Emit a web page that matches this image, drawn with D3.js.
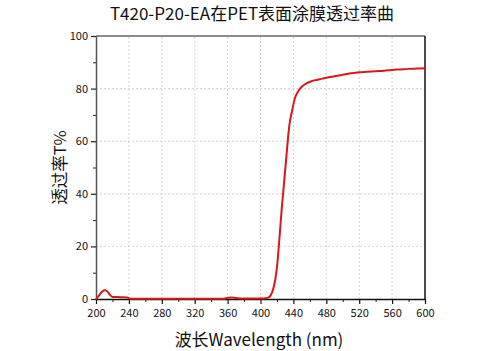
<!DOCTYPE html>
<html>
<head>
<meta charset="utf-8">
<script src="https://cdn.jsdelivr.net/npm/d3@7"></script>
<style>
  body { margin: 0; background: #fff; }
  text { font-family: "Noto Sans CJK SC", "Noto Sans", sans-serif; font-weight: 400; }
</style>
</head>
<body>
<svg id="chart"></svg>
<script>
// wavelength (nm) and transmittance (%)
const wavelength = [200, 204, 208, 211, 214, 217, 220, 230, 238, 242, 260, 300, 340, 356, 360, 365, 370, 380, 390, 400, 406, 410, 412, 414, 416, 418, 420, 422, 424, 426, 428, 430, 432, 434, 436, 438, 440, 442, 445, 448, 452, 456, 462, 468, 474, 480, 490, 500, 510, 520, 530, 540, 550, 560, 570, 580, 590, 600];
const transmittance = [0, 1.5, 3.0, 3.3, 2.8, 1.5, 0.8, 0.7, 0.6, 0.1, 0.05, 0.05, 0.05, 0.1, 0.5, 0.6, 0.4, 0.2, 0.2, 0.2, 0.3, 0.6, 1.2, 2.5, 4.5, 7.5, 12, 19, 27, 35, 42, 49, 56, 63, 68, 71, 74, 76.5, 78.5, 80, 81.2, 82, 82.8, 83.3, 83.7, 84.1, 84.7, 85.3, 85.8, 86.2, 86.4, 86.6, 86.8, 87.1, 87.3, 87.5, 87.6, 87.7];
const xTicks = [200, 240, 280, 320, 360, 400, 440, 480, 520, 560, 600];
const yTicks = [0, 20, 40, 60, 80, 100];
const titleText = "T420-P20-EA在PET表面涂膜透过率曲";
const xLabel = "波长Wavelength (nm)";
const yLabel = "透过率T%";

const width = 486, height = 351;
const marginLeft = 96, marginRight = 61, marginTop = 36, marginBottom = 52;

const svg = d3.select('#chart')
  .attr('width', width)
  .attr('height', height)
  .attr('viewBox', [0, 0, width, height]);

const x = d3.scaleLinear().domain([200, 600]).range([marginLeft, width - marginRight]);
const y = d3.scaleLinear().domain([0, 100]).range([height - marginBottom, marginTop]);

// grid
svg.append('g')
  .selectAll('line')
  .data(xTicks.slice(1, -1))
  .join('line')
  .attr('x1', (d) => x(d)).attr('x2', (d) => x(d))
  .attr('y1', y(0)).attr('y2', y(100))
  .attr('stroke', '#c8c8c8').attr('stroke-width', 0.8)
  .attr('stroke-dasharray', '2,2');
svg.append('g')
  .selectAll('line')
  .data(yTicks.slice(1, -1))
  .join('line')
  .attr('x1', x(200)).attr('x2', x(600))
  .attr('y1', (d) => y(d)).attr('y2', (d) => y(d))
  .attr('stroke', '#c8c8c8').attr('stroke-width', 0.8)
  .attr('stroke-dasharray', '2,2');

// frame top / right
svg.append('line')
  .attr('x1', x(200)).attr('x2', x(600)).attr('y1', y(100)).attr('y2', y(100))
  .attr('stroke', '#666').attr('stroke-width', 1.5);
svg.append('line')
  .attr('x1', x(600)).attr('x2', x(600)).attr('y1', y(100)).attr('y2', y(0))
  .attr('stroke', '#111').attr('stroke-width', 1.5);

// minor ticks
const xMinor = d3.range(220, 600, 40);
const yMinor = d3.range(10, 100, 20);
svg.append('g')
  .attr('transform', `translate(0,${height - marginBottom})`)
  .call(d3.axisBottom(x).tickValues(xMinor).tickSize(3).tickFormat(''))
  .call((g) => g.select('.domain').remove())
  .call((g) => g.selectAll('line').attr('stroke', '#222'));
svg.append('g')
  .attr('transform', `translate(${marginLeft},0)`)
  .call(d3.axisLeft(y).tickValues(yMinor).tickSize(3).tickFormat(''))
  .call((g) => g.select('.domain').remove())
  .call((g) => g.selectAll('line').attr('stroke', '#222'));

// axes
svg.append('g')
  .attr('transform', `translate(0,${height - marginBottom})`)
  .call(d3.axisBottom(x).tickValues(xTicks).tickSize(5).tickSizeOuter(0))
  .call((g) => g.select('.domain').attr('stroke', '#111').attr('stroke-width', 1.5))
  .call((g) => g.selectAll('line').attr('stroke', '#111').attr('stroke-width', 1.2))
  .call((g) => g.selectAll('text').attr('font-size', 11).attr('fill', '#111').attr('dy', '0.9em'));

svg.append('g')
  .attr('transform', `translate(${marginLeft},0)`)
  .call(d3.axisLeft(y).tickValues(yTicks).tickSize(5).tickSizeOuter(0))
  .call((g) => g.select('.domain').attr('stroke', '#555').attr('stroke-width', 1.5))
  .call((g) => g.selectAll('line').attr('stroke', '#222').attr('stroke-width', 1.2))
  .call((g) => g.selectAll('text').attr('font-size', 11).attr('fill', '#111'));

// curve
const line = d3.line()
  .x((d, i) => x(wavelength[i]))
  .y((d) => y(d))
  .curve(d3.curveMonotoneX);
svg.append('path')
  .datum(transmittance)
  .attr('d', line)
  .attr('fill', 'none')
  .attr('stroke', '#d7191c')
  .attr('stroke-width', 2);

// labels
svg.append('text').attr('x', 252).attr('y', 20).attr('text-anchor', 'middle')
  .attr('font-size', 17).attr('fill', '#111').text(titleText);
svg.append('text').attr('x', 259).attr('y', 346).attr('text-anchor', 'middle')
  .attr('font-size', 17).attr('fill', '#111').text(xLabel);
svg.append('text')
  .attr('transform', `translate(66,${(y(0) + y(100)) / 2}) rotate(-90)`)
  .attr('text-anchor', 'middle')
  .attr('font-size', 16.5).attr('fill', '#111').text(yLabel);
</script>
</body>
</html>
